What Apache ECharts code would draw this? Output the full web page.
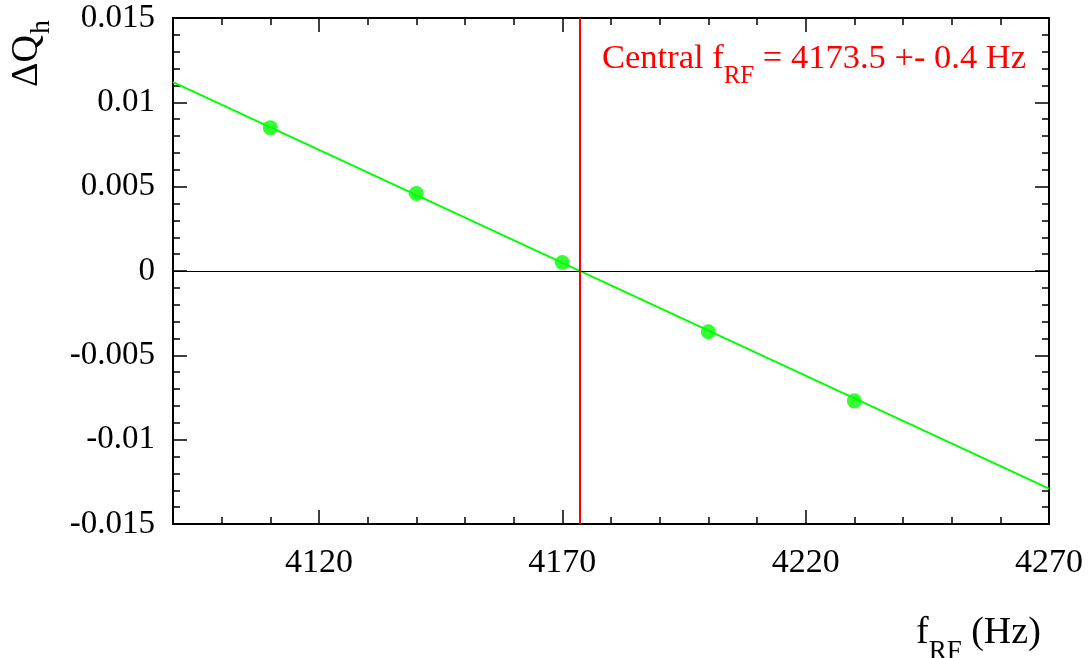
<!DOCTYPE html>
<html>
<head>
<meta charset="utf-8">
<script src="https://cdn.jsdelivr.net/npm/echarts@6/dist/echarts.min.js"></script>
<style>
  html, body { margin: 0; padding: 0; background: #fff; }
  #chart { width: 1090px; height: 658px; }
</style>
</head>
<body>
<div id="chart"></div>
<script>
// measured points (f_RF in Hz, delta Q_h)
const freqHz = [4110, 4140, 4170, 4200, 4230];
const deltaQh = [0.0085, 0.0046, 0.0005, -0.0036, -0.0077];

// straight-line fit, read at the frame edges
const fitX = [4090, 4270];
const fitY = [0.0112, -0.0129];

const centralFreq = 4173.5;

const xMajorTicks = [4120, 4170, 4220, 4270];
const xMinorTicks = [4100, 4110, 4130, 4140, 4150, 4160, 4180, 4190, 4200, 4210, 4230, 4240, 4250, 4260];
const yTickLabels = ['-0.015', '-0.01', '-0.005', '0', '0.005', '0.01', '0.015'];

const FONT = '"Liberation Serif", "Times New Roman", serif';
const chart = echarts.init(document.getElementById('chart'), null, { renderer: 'canvas' });

const measureCtx = document.createElement('canvas').getContext('2d');
function textWidth(t, size) {
    measureCtx.font = size + 'px ' + FONT;
    return measureCtx.measureText(t).width;
}

function xAxisDef(position, ticks, len, showLine, showLabels) {
    return {
        type: 'value',
        position: position,
        min: 4090,
        max: 4270,
        axisLine: { show: showLine, onZero: false, lineStyle: { color: '#000', width: 2 } },
        axisTick: { show: true, inside: true, length: len, customValues: ticks, lineStyle: { color: '#000', width: 1.5 } },
        axisLabel: {
            show: showLabels, customValues: ticks, margin: 22,
            color: '#000', fontSize: 34, fontFamily: FONT,
            formatter: function (v) { return String(v); }
        },
        splitLine: { show: false }
    };
}

function yAxisDef(position, showLabels) {
    return {
        type: 'value',
        position: position,
        min: -0.015,
        max: 0.015,
        interval: 0.005,
        axisLine: { show: true, onZero: false, lineStyle: { color: '#000', width: 2 } },
        axisTick: { show: true, inside: true, length: 14, lineStyle: { color: '#000', width: 1.5 } },
        minorTick: { show: true, splitNumber: 5, length: 7, lineStyle: { color: '#000', width: 1.5 } },
        axisLabel: {
            show: showLabels, margin: 18, color: '#000', fontSize: 33, fontFamily: FONT,
            formatter: function (v) {
                const idx = Math.round((v + 0.015) / 0.005);
                return yTickLabels[idx];
            }
        },
        splitLine: { show: false },
        minorSplitLine: { show: false }
    };
}

// texts with subscripts
const annSize = 34.5, annSub = 25;
const annX = 602;
const annW1 = textWidth('Central f', annSize);
const annW2 = textWidth('RF', annSub);

const xtSize = 38, xtSub = 27;
const xtX = 916;
const xtW1 = textWidth('f', xtSize);
const xtW2 = textWidth('RF', xtSub);

const ytSize = 38, ytSub = 28;
const ytW1 = textWidth('ΔQ', ytSize);

const option = {
    animation: false,
    backgroundColor: '#fff',
    grid: { left: 173, right: 41, top: 18, bottom: 134, containLabel: false },
    xAxis: [
        xAxisDef('bottom', xMajorTicks, 14, true, true),
        xAxisDef('bottom', xMinorTicks, 7, false, false),
        xAxisDef('top', xMajorTicks, 14, true, false),
        xAxisDef('top', xMinorTicks, 7, false, false)
    ],
    yAxis: [
        yAxisDef('left', true),
        yAxisDef('right', false)
    ],
    series: [
        {
            name: 'guides',
            type: 'line',
            data: [],
            z: 1,
            markLine: {
                silent: true,
                symbol: 'none',
                label: { show: false },
                animation: false,
                data: [
                    { yAxis: 0, lineStyle: { color: '#000', width: 1, type: 'solid' } },
                    { xAxis: centralFreq, lineStyle: { color: '#ff0000', width: 2, type: 'solid' } }
                ]
            }
        },
        {
            name: 'fit',
            type: 'line',
            data: fitX.map((x, i) => [x, fitY[i]]),
            symbol: 'none',
            lineStyle: { color: '#00ff00', width: 2 },
            z: 2
        },
        {
            name: 'points',
            type: 'scatter',
            data: freqHz.map((x, i) => [x, deltaQh[i]]),
            symbolSize: 15,
            itemStyle: { color: '#00ff00' },
            z: 3
        }
    ],
    graphic: [
        { type: 'text', x: annX, y: 59, style: { text: 'Central f', fill: '#ff0000', font: annSize + 'px ' + FONT, verticalAlign: 'middle' } },
        { type: 'text', x: annX + annW1, y: 76, style: { text: 'RF', fill: '#ff0000', font: annSub + 'px ' + FONT, verticalAlign: 'middle' } },
        { type: 'text', x: annX + annW1 + annW2, y: 59, style: { text: ' = 4173.5 +- 0.4 Hz', fill: '#ff0000', font: annSize + 'px ' + FONT, verticalAlign: 'middle' } },

        { type: 'text', x: xtX, y: 633, style: { text: 'f', fill: '#000', font: xtSize + 'px ' + FONT, verticalAlign: 'middle' } },
        { type: 'text', x: xtX + xtW1, y: 652, style: { text: 'RF', fill: '#000', font: xtSub + 'px ' + FONT, verticalAlign: 'middle' } },
        { type: 'text', x: xtX + xtW1 + xtW2, y: 633, style: { text: ' (Hz)', fill: '#000', font: xtSize + 'px ' + FONT, verticalAlign: 'middle' } },

        {
            type: 'group', x: 27, y: 87, rotation: Math.PI / 2,
            children: [
                { type: 'text', x: 0, y: 0, style: { text: 'ΔQ', fill: '#000', font: ytSize + 'px ' + FONT, verticalAlign: 'middle' } },
                { type: 'text', x: ytW1 + 1, y: 15, style: { text: 'h', fill: '#000', font: ytSub + 'px ' + FONT, verticalAlign: 'middle' } }
            ]
        }
    ]
};

chart.setOption(option);
</script>
</body>
</html>
